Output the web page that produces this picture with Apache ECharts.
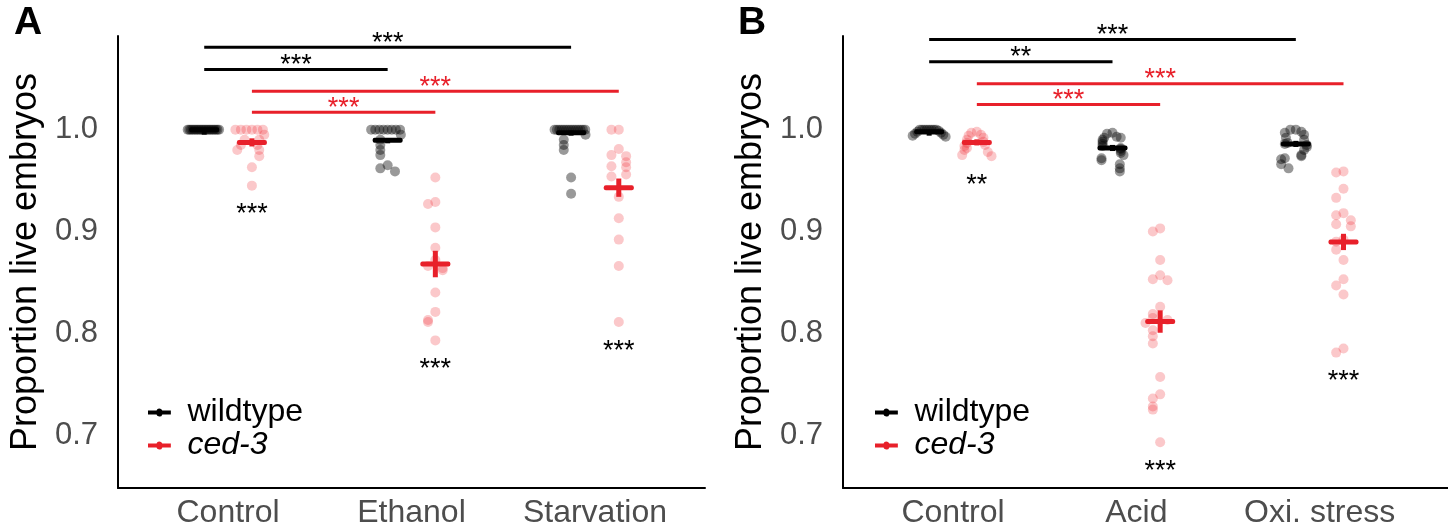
<!DOCTYPE html>
<html>
<head>
<meta charset="utf-8">
<script src="https://cdn.jsdelivr.net/npm/echarts@6.0.0/dist/echarts.min.js"></script>
<style>
  html, body { margin: 0; padding: 0; background: #fff; }
  #chart { width: 1448px; height: 531px; }
</style>
</head>
<body>
<div id="chart"></div>
<script>
// ---- data ----
const categoriesA = ['Control', 'Ethanol', 'Starvation']
const categoriesB = ['Control', 'Acid', 'Oxi. stress']
const yTicks = [0.7, 0.8, 0.9, 1.0]

// panel A: proportion of live embryos per plate
const wildtypeA = [
  [1, 1, 1, 1, 1, 1, 1, 1, 1, 1, 1, 1, 1, 1, 1, 1, 1, 1, 1, 1],
  [1, 1, 1, 1, 1, 1, 1, 1, 0.995, 0.99, 0.985, 0.98, 0.975, 0.965, 0.962, 0.959],
  [1, 1, 1, 1, 1, 1, 1, 1, 1, 1, 1, 1, 1, 1, 0.995, 0.99, 0.985, 0.98, 0.953, 0.937]
]
const ced3A = [
  [1, 1, 1, 1, 1, 1, 0.995, 0.99, 0.99, 0.985, 0.985, 0.98, 0.98, 0.974, 0.963, 0.945],
  [0.953, 0.929, 0.927, 0.904, 0.884, 0.872, 0.866, 0.864, 0.862, 0.84, 0.821, 0.813, 0.811, 0.793],
  [1, 1, 0.981, 0.975, 0.974, 0.968, 0.964, 0.963, 0.956, 0.954, 0.934, 0.913, 0.892, 0.866, 0.811]
]
const wildtypeMeanA = [1.0, 0.9895, 0.997]
const wildtypeSeA = [0, 0.002, 0.002]
const ced3MeanA = [0.9875, 0.868, 0.943]
const ced3SeA = [0.004, 0.013, 0.009]
const starsA = ['***', '***', '***']
// [from category, to category, group (0 wildtype, 1 ced-3), level, label]
const sigA = [
  [0, 2, 0, 1.081, '***'],
  [0, 1, 0, 1.059, '***'],
  [0, 2, 1, 1.0377, '***'],
  [0, 1, 1, 1.017, '***']
]

// panel B
const wildtypeB = [
  [1, 1, 1, 1, 1, 1, 1, 1, 0.999, 0.998, 0.997, 0.996, 0.995, 0.994, 0.993],
  [0.997, 0.996, 0.993, 0.992, 0.992, 0.99, 0.988, 0.986, 0.984, 0.982, 0.981, 0.979, 0.977, 0.975, 0.972, 0.97, 0.966, 0.962, 0.959],
  [1, 1, 0.998, 0.997, 0.995, 0.992, 0.99, 0.987, 0.986, 0.985, 0.983, 0.98, 0.975, 0.974, 0.972, 0.971, 0.966, 0.962]
]
const ced3B = [
  [0.998, 0.997, 0.995, 0.994, 0.992, 0.99, 0.988, 0.987, 0.985, 0.984, 0.982, 0.98, 0.978, 0.975, 0.974],
  [0.903, 0.9, 0.872, 0.857, 0.853, 0.852, 0.826, 0.819, 0.815, 0.813, 0.81, 0.803, 0.797, 0.79, 0.757, 0.74, 0.736, 0.728, 0.725, 0.693],
  [0.959, 0.958, 0.942, 0.933, 0.918, 0.916, 0.911, 0.907, 0.905, 0.892, 0.89, 0.882, 0.872, 0.853, 0.847, 0.838, 0.785, 0.781]
]
const wildtypeMeanB = [0.998, 0.982, 0.986]
const wildtypeSeB = [0.001, 0.003, 0.003]
const ced3MeanB = [0.9875, 0.8115, 0.8897]
const ced3SeB = [0.003, 0.011, 0.008]
const starsB = ['**', '***', '***']
const sigB = [
  [0, 2, 0, 1.0885, '***'],
  [0, 1, 0, 1.0666, '**'],
  [0, 2, 1, 1.0452, '***'],
  [0, 1, 1, 1.0246, '***']
]

// ---- styling ----
const FONT = '"Liberation Sans", Arial, sans-serif'
const RED = '#e8202a'
const colors = ['#000000', RED]
const dodge = [-0.13, 0.13]
const legendIcon = 'path://M0,3.5H11.2A4,4 0 0,1 18.8,3.5H30V8.5H18.8A4,4 0 0,1 11.2,8.5H0Z'

// spread points that sit at about the same value sideways (simple beeswarm)
function spread (vals) {
  const near = (a, b) => Math.abs(a - b) < 0.009
  return vals.map((v, j) => {
    const n = vals.filter(w => near(w, v)).length
    const rank = vals.slice(0, j).filter(w => near(w, v)).length
    const step = Math.min(0.04, 0.09 / Math.max(1, Math.ceil((n - 1) / 2)))
    const k = Math.ceil(rank / 2)
    return (rank % 2 ? -1 : 1) * k * step
  })
}

function pointSeries (name, groups, g, ax, color) {
  const data = []
  groups.forEach((vals, i) => {
    const off = spread(vals)
    vals.forEach((v, j) => {
      data.push([i + 1 + dodge[g] + off[j], v])
    })
  })
  return {
    name: name,
    type: 'scatter',
    xAxisIndex: ax,
    yAxisIndex: ax,
    symbolSize: 10,
    itemStyle: { color: color },
    silent: true,
    z: 2,
    data: data
  }
}

function crossSeries (means, ses, g, ax) {
  return {
    type: 'custom',
    xAxisIndex: ax,
    yAxisIndex: ax,
    silent: true,
    z: 5,
    encode: { x: 0, y: 1 },
    data: means.map((m, i) => [i + 1 + dodge[g], m, ses[i]]),
    renderItem: (params, api) => {
      const x = api.value(0)
      const m = api.value(1)
      const s = api.value(2)
      const c = api.coord([x, m])
      const t = api.coord([x, m + s])
      const b = api.coord([x, m - s])
      return {
        type: 'group',
        children: [
          { type: 'rect', shape: { x: c[0] - 15, y: c[1] - 2.5, width: 30, height: 5, r: 2 }, style: { fill: colors[g] } },
          { type: 'rect', shape: { x: c[0] - 2.5, y: t[1], width: 5, height: Math.max(b[1] - t[1], 5) }, style: { fill: colors[g] } }
        ]
      }
    }
  }
}

function sigSeries (sig, ax) {
  return {
    type: 'custom',
    xAxisIndex: ax,
    yAxisIndex: ax,
    silent: true,
    z: 6,
    encode: { x: [0, 1], y: 2 },
    data: sig.map(s => [s[0] + 1 + dodge[s[2]], s[1] + 1 + dodge[s[2]], s[3]]),
    renderItem: (params, api) => {
      const s = sig[params.dataIndex]
      const p1 = api.coord([api.value(0), api.value(2)])
      const p2 = api.coord([api.value(1), api.value(2)])
      const col = colors[s[2]]
      return {
        type: 'group',
        children: [
          { type: 'line', shape: { x1: p1[0], y1: p1[1], x2: p2[0], y2: p2[1] }, style: { stroke: col, lineWidth: 3 } },
          { type: 'text', x: (p1[0] + p2[0]) / 2, y: p1[1] - 4, style: { text: s[4], fill: col, font: '27px ' + FONT, align: 'center', verticalAlign: 'middle' } }
        ]
      }
    }
  }
}

function starSeries (groups, stars, ax) {
  return {
    type: 'custom',
    xAxisIndex: ax,
    yAxisIndex: ax,
    silent: true,
    z: 6,
    encode: { x: 0, y: 1 },
    data: groups.map((vals, i) => [i + 1 + dodge[1], Math.min(...vals)]),
    renderItem: (params, api) => {
      const p = api.coord([api.value(0), api.value(1)])
      return {
        type: 'text',
        x: p[0],
        y: p[1] + 29,
        style: { text: stars[params.dataIndex], fill: '#000', font: '27px ' + FONT, align: 'center', verticalAlign: 'middle' }
      }
    }
  }
}

function xAxis (ax, cats, max) {
  return {
    type: 'value',
    gridIndex: ax,
    min: 0.4,
    max: max,
    axisLine: { show: true, onZero: false, lineStyle: { color: '#000', width: 2 } },
    axisTick: { show: false },
    splitLine: { show: false },
    axisLabel: {
      customValues: [1, 2, 3],
      formatter: v => cats[Math.round(v) - 1],
      fontSize: 32,
      fontFamily: FONT,
      color: '#4d4d4d',
      margin: 9
    }
  }
}

function yAxis (ax) {
  return {
    type: 'value',
    gridIndex: ax,
    min: 0.648,
    max: 1.092,
    axisLine: { show: true, onZero: false, lineStyle: { color: '#000', width: 2 } },
    axisTick: { show: false },
    splitLine: { show: false },
    axisLabel: {
      customValues: yTicks,
      formatter: v => v.toFixed(1),
      fontSize: 31,
      fontFamily: FONT,
      color: '#4d4d4d',
      margin: 20
    },
    name: 'Proportion live embryos',
    nameLocation: 'middle',
    nameGap: 74,
    nameTextStyle: { fontSize: 36, fontFamily: FONT, color: '#000' }
  }
}

function legend (left) {
  return {
    left: left,
    top: 391,
    orient: 'vertical',
    itemWidth: 30,
    itemHeight: 8,
    itemGap: 0,
    selectedMode: false,
    data: [
      { name: 'wildtype', icon: legendIcon, itemStyle: { color: '#000', opacity: 1 } },
      { name: 'ced-3', icon: legendIcon, itemStyle: { color: RED, opacity: 1 } }
    ],
    formatter: n => n === 'ced-3' ? '{i|ced-3}' : n,
    textStyle: {
      fontSize: 32,
      fontFamily: FONT,
      color: '#000',
      lineHeight: 33,
      padding: [0, 0, 0, 8],
      rich: { i: { fontSize: 32, fontFamily: FONT, fontStyle: 'italic', color: '#000', lineHeight: 33 } }
    }
  }
}

const chart = echarts.init(document.getElementById('chart'), null, { renderer: 'canvas' })

chart.setOption({
  backgroundColor: '#fff',
  animation: false,
  grid: [
    { left: 118, right: 743, top: 36, bottom: 43 },
    { left: 843, right: 0, top: 36, bottom: 43 }
  ],
  xAxis: [xAxis(0, categoriesA, 3.6), xAxis(1, categoriesB, 3.7)],
  yAxis: [yAxis(0), yAxis(1)],
  legend: [legend(143), legend(870)],
  graphic: [
    { type: 'text', left: 14, top: 4, style: { text: 'A', font: 'bold 39px ' + FONT, fill: '#000' } },
    { type: 'text', left: 738, top: 4, style: { text: 'B', font: 'bold 39px ' + FONT, fill: '#000' } }
  ],
  series: [
    pointSeries('wildtype', wildtypeA, 0, 0, 'rgba(0,0,0,0.5)'),
    pointSeries('ced-3', ced3A, 1, 0, 'rgba(237,28,36,0.3)'),
    crossSeries(wildtypeMeanA, wildtypeSeA, 0, 0),
    crossSeries(ced3MeanA, ced3SeA, 1, 0),
    sigSeries(sigA, 0),
    starSeries(ced3A, starsA, 0),

    pointSeries('wildtype', wildtypeB, 0, 1, 'rgba(0,0,0,0.5)'),
    pointSeries('ced-3', ced3B, 1, 1, 'rgba(237,28,36,0.3)'),
    crossSeries(wildtypeMeanB, wildtypeSeB, 0, 1),
    crossSeries(ced3MeanB, ced3SeB, 1, 1),
    sigSeries(sigB, 1),
    starSeries(ced3B, starsB, 1)
  ]
})
</script>
</body>
</html>
